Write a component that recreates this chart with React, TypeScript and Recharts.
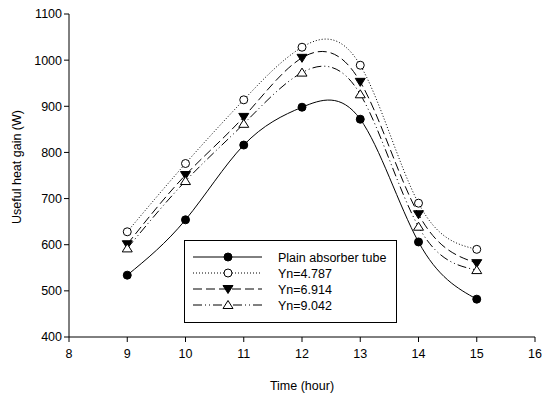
import React from 'react';
import { LineChart, Line, XAxis, YAxis, Label } from 'recharts';

// data
const hours = [9, 10, 11, 12, 13, 14, 15];
const plainTube = [534, 654, 816, 898, 872, 606, 482];
const yn4787 = [628, 776, 914, 1028, 989, 690, 590];
const yn6914 = [601, 751, 877, 1005, 953, 666, 560];
const yn9042 = [592, 738, 862, 973, 926, 639, 545];

const xTicks = [8, 9, 10, 11, 12, 13, 14, 15, 16];
const yTicks = [400, 500, 600, 700, 800, 900, 1000, 1100];

const seriesNames = ['Plain absorber tube', 'Yn=4.787', 'Yn=6.914', 'Yn=9.042'];

const chartData = hours.map((h, i) => ({
  hour: h,
  plain: plainTube[i],
  a: yn4787[i],
  b: yn6914[i],
  c: yn9042[i],
}));

const FONT = '"Liberation Sans", Arial, sans-serif';

// marker shapes
const Marker = ({ kind, cx, cy }: { kind: string; cx: number; cy: number }) => {
  if (cx == null || cy == null) return null;
  if (kind === 'filledCircle') return <circle cx={cx} cy={cy} r={4} fill="#000" stroke="#000" />;
  if (kind === 'openCircle') return <circle cx={cx} cy={cy} r={4} fill="#fff" stroke="#000" strokeWidth={1} />;
  if (kind === 'downTri') {
    const s = 5;
    return <polygon points={`${cx - s},${cy - s * 0.7} ${cx + s},${cy - s * 0.7} ${cx},${cy + s * 0.9}`} fill="#000" stroke="#000" />;
  }
  const s = 5;
  return <polygon points={`${cx - s},${cy + s * 0.7} ${cx + s},${cy + s * 0.7} ${cx},${cy - s * 0.9}`} fill="#fff" stroke="#000" strokeWidth={1} />;
};

const dotFor = (kind: string) => (props: any) => <Marker key={`${kind}-${props.index}`} kind={kind} cx={props.cx} cy={props.cy} />;

const styles = [
  { key: 'plain', dash: undefined, marker: 'filledCircle' },
  { key: 'a', dash: '1 2', marker: 'openCircle' },
  { key: 'b', dash: '9 4', marker: 'downTri' },
  { key: 'c', dash: '9 3 1 3 1 3', marker: 'upTri' },
];

const LegendBox = () => (
  <svg width={214} height={84} style={{ position: 'absolute', left: 184, top: 240 }}>
    <rect x={0.5} y={0.5} width={212} height={82} fill="#fff" stroke="#000" strokeWidth={1} />
    {styles.map((s, i) => {
      const y = 17 + i * 16;
      return (
        <g key={s.key}>
          <line x1={9} x2={78} y1={y} y2={y} stroke="#000" strokeWidth={1} strokeDasharray={s.dash} />
          <Marker kind={s.marker} cx={44} cy={y} />
          <text x={94} y={y + 4.5} fontSize={12.5} fontFamily={FONT} fill="#000">{seriesNames[i]}</text>
        </g>
      );
    })}
  </svg>
);

const YTitle = () => (
  <text x={0} y={0} transform="translate(21,167) rotate(-90)" textAnchor="middle" fontSize={12.5} fontFamily={FONT} fill="#000">
    Useful heat gain (W)
  </text>
);

export default function App() {
  return (
    <div style={{ position: 'absolute', left: 0, top: 0, width: 550, height: 396, background: '#fff' }}>
      <LineChart width={550} height={396} data={chartData} margin={{ top: 14, right: 15, bottom: 14, left: 9 }}>
        <XAxis
          dataKey="hour"
          type="number"
          domain={[8, 16]}
          ticks={xTicks}
          stroke="#000"
          tick={{ fill: '#000', fontSize: 12.5, fontFamily: FONT }}
          tickSize={5}
          tickMargin={7}
          height={45}
        >
          <Label value="Time (hour)" position="insideBottom" offset={-8} fill="#000" fontSize={12.5} fontFamily={FONT} />
        </XAxis>
        <XAxis xAxisId="top" orientation="top" dataKey="hour" type="number" domain={[8, 16]} stroke="#000" tick={false} tickLine={false} height={0} />
        <YAxis
          type="number"
          domain={[400, 1100]}
          ticks={yTicks}
          stroke="#000"
          tick={{ fill: '#000', fontSize: 12.5, fontFamily: FONT }}
          tickSize={5}
          width={60}
          interval={0}
        >
          <Label content={<YTitle />} />
        </YAxis>
        <YAxis yAxisId="right" orientation="right" type="number" domain={[400, 1100]} stroke="#000" tick={false} tickLine={false} width={0} />
        {styles.map((s) => (
          <Line
            key={s.key}
            dataKey={s.key}
            type="natural"
            stroke="#000"
            strokeWidth={1}
            strokeDasharray={s.dash}
            dot={dotFor(s.marker)}
            activeDot={false}
            isAnimationActive={false}
          />
        ))}
      </LineChart>
      <LegendBox />
    </div>
  );
}
